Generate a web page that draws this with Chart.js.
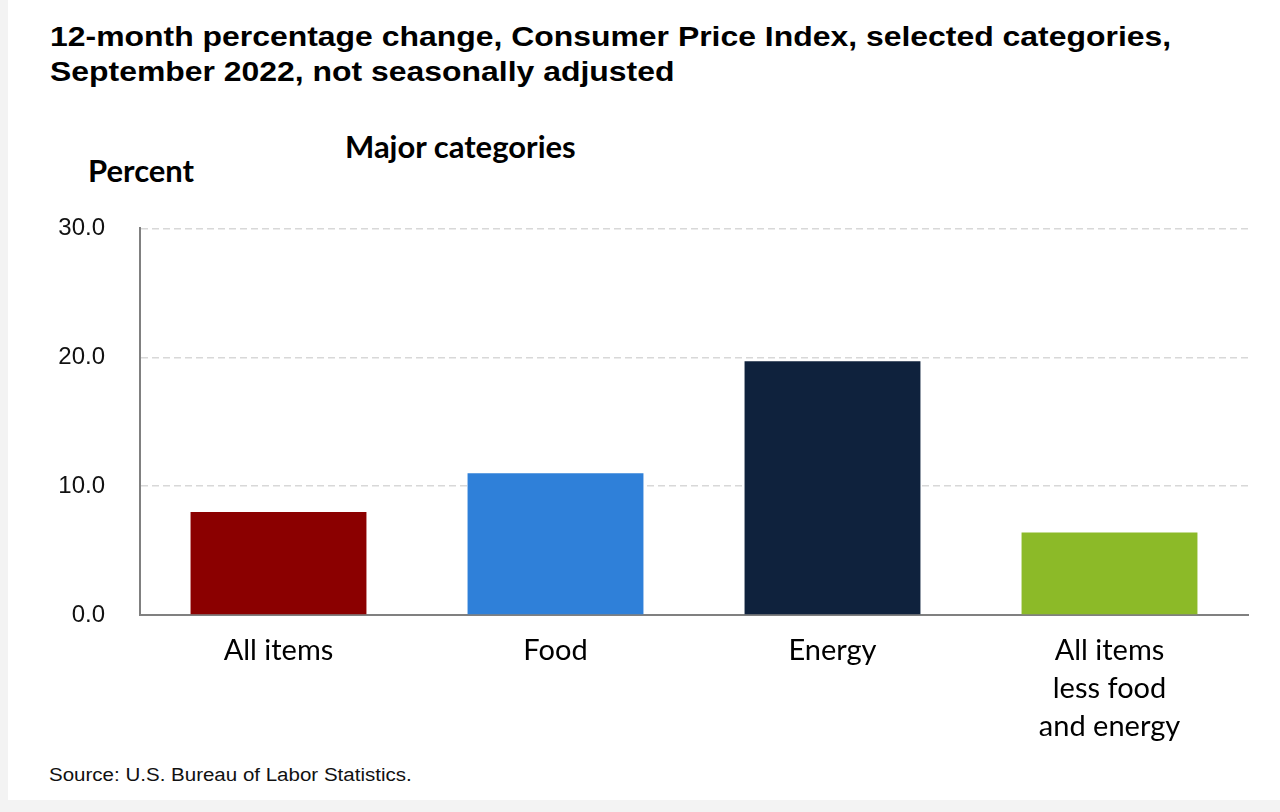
<!DOCTYPE html>
<html>
<head>
<meta charset="utf-8">
<script src="https://cdn.jsdelivr.net/npm/chart.js@4"></script>
<style>
  body { margin: 0; background: #f3f3f3; }
  #page { position: absolute; left: 8px; top: 0; width: 1272px; height: 800px; background: #fff; }
  .txt { position: absolute; white-space: nowrap; color: #000; transform-origin: left top; }
  #title { left: 50px; top: 19px; font: bold 28px "Liberation Sans", Arial, sans-serif; line-height: 35px; transform: scaleX(1.14); }
  #major { left: 345px; top: 127px; font: bold 31px Lato, sans-serif; }
  #percent { left: 88px; top: 151px; font: bold 31px Lato, sans-serif; }
  #source { left: 49px; top: 765px; font: 18px "Liberation Sans", Arial, sans-serif; color: #111; transform: scaleX(1.14); }
  #wrap { position: absolute; left: 0; top: 179px; width: 1280px; height: 581px; }
</style>
</head>
<body>
<div id="page"></div>
<div class="txt" id="title">12-month percentage change, Consumer Price Index, selected categories,<br>September 2022, not seasonally adjusted</div>
<div class="txt" id="major">Major categories</div>
<div class="txt" id="percent">Percent</div>
<div id="wrap"><canvas id="graph1"></canvas></div>
<div class="txt" id="source">Source: U.S. Bureau of Labor Statistics.</div>
<script>
// Data
const categories = [['All items'], ['Food'], ['Energy'], ['All items', 'less food', 'and energy']];
const pctChange = [8.0, 11.0, 19.7, 6.4];
const barColors = ['#8b0000', '#2f80d9', '#0f223d', '#8cba28'];
const yTicks = [0, 10, 20, 30];

const ctx1 = document.getElementById('graph1').getContext('2d');
new Chart(ctx1, {
    type: 'bar',
    data: {
        labels: categories,
        datasets: [{
            label: '12-month percent change',
            data: pctChange,
            backgroundColor: barColors,
            borderWidth: 0,
            barPercentage: 0.635,
            categoryPercentage: 1
        }]
    },
    options: {
        responsive: true,
        maintainAspectRatio: false,
        animation: false,
        layout: { padding: { top: 9, right: 32, left: 0, bottom: 0 } },
        plugins: {
            legend: { display: false },
            tooltip: { enabled: false }
        },
        scales: {
            x: {
                grid: { display: false, drawTicks: false },
                border: { color: '#808080', width: 2 },
                ticks: {
                    color: '#000',
                    padding: 17,
                    maxRotation: 0,
                    autoSkip: false,
                    font: { family: 'Lato', size: 29, lineHeight: 1.31 }
                },
                afterFit: (scale) => { scale.height = 145; }
            },
            y: {
                min: 0,
                max: 30,
                afterBuildTicks: (scale) => { scale.ticks = yTicks.map(v => ({ value: v })); },
                grid: {
                    drawTicks: false,
                    color: (c) => c.tick && c.tick.value === 0 ? 'rgba(0,0,0,0)' : '#d8d8d8',
                    lineWidth: 1.5
                },
                border: { color: '#808080', width: 2, dash: [7, 4] },
                ticks: {
                    color: '#111',
                    padding: 35,
                    font: { family: 'Liberation Sans', size: 24 },
                    callback: (v) => Number(v).toFixed(1)
                },
                afterFit: (scale) => { scale.width = 140; }
            }
        }
    }
});
</script>
</body>
</html>
